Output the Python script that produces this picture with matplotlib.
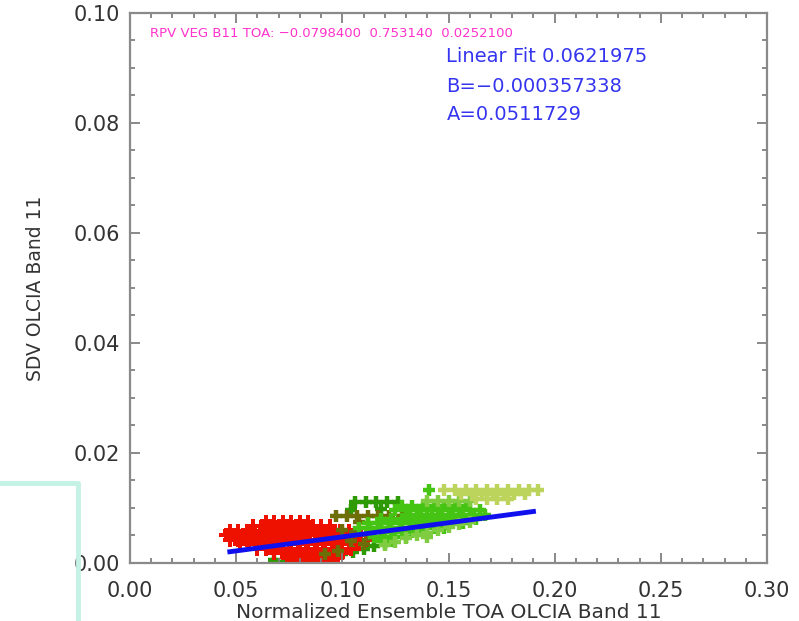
import matplotlib
matplotlib.use('Agg')
import matplotlib.pyplot as plt
from matplotlib.lines import Line2D
from matplotlib.ticker import MultipleLocator

# Valores
rpv_params = [-0.0798400, 0.753140, 0.0252100]
fit_r = 0.0621975
fit_b = -0.000357338
fit_a = 0.0511729
fit_x = [0.047, 0.19]

# Nuvem vermelha: uma linha de pontos por nível de y
red_rows = {
    0.0075: [0.064, 0.068, 0.072, 0.076, 0.080, 0.084],
    0.0067: [0.058, 0.062, 0.066, 0.070, 0.074, 0.078, 0.082, 0.086, 0.090, 0.094],
    0.0058: [0.047, 0.051, 0.055, 0.059, 0.063, 0.067, 0.071, 0.075, 0.079, 0.083, 0.087, 0.091,
             0.095, 0.099, 0.103],
    0.0050: [0.045, 0.049, 0.053, 0.057, 0.061, 0.065, 0.069, 0.073, 0.077, 0.081, 0.085, 0.089,
             0.093, 0.097, 0.101, 0.105, 0.109],
    0.0042: [0.047, 0.051, 0.055, 0.059, 0.063, 0.067, 0.071, 0.075, 0.079, 0.083, 0.087, 0.091,
             0.095, 0.099, 0.103, 0.107, 0.111],
    0.0034: [0.052, 0.056, 0.060, 0.064, 0.068, 0.072, 0.076, 0.080, 0.084, 0.088, 0.092, 0.096,
             0.100, 0.104, 0.108],
    0.0026: [0.060, 0.064, 0.068, 0.072, 0.076, 0.080, 0.084, 0.088, 0.092, 0.096, 0.100, 0.104],
    0.0018: [0.068, 0.072, 0.076, 0.080, 0.084, 0.088, 0.092, 0.096, 0.100],
    0.0010: [0.074, 0.078, 0.082, 0.086, 0.090, 0.094, 0.098],
    0.0003: [0.078, 0.082, 0.086, 0.090, 0.094],
}

# Verde escuro (por baixo da nuvem vermelha e faixa superior)
dkgreen_x = [0.068, 0.072, 0.090, 0.095, 0.100, 0.105, 0.110, 0.115, 0.120,
             0.106, 0.111, 0.116, 0.121, 0.126, 0.104, 0.118]
dkgreen_y = [0.0006, 0.0002, 0.0008, 0.0012, 0.0016, 0.0020, 0.0026, 0.0030, 0.0036,
             0.0110, 0.0110, 0.0110, 0.0110, 0.0110, 0.0097, 0.0098]

# Oliva
olive_x = [0.097, 0.102, 0.107, 0.112, 0.117, 0.122, 0.128,
           0.100, 0.106, 0.112, 0.104, 0.110, 0.092, 0.098, 0.108]
olive_y = [0.0086] * 7 + [0.0060, 0.0056, 0.0050, 0.0040, 0.0034, 0.0016, 0.0022, 0.0074]

# Verde vivo
green_rows = {
    0.0104: [0.128, 0.133, 0.138, 0.143, 0.148, 0.153, 0.158],
    0.0096: [0.125, 0.130, 0.135, 0.140, 0.145, 0.150, 0.155, 0.160, 0.165],
    0.0088: [0.132, 0.137, 0.142, 0.147, 0.152, 0.157, 0.162, 0.167],
    0.0080: [0.118, 0.123, 0.128, 0.133, 0.138, 0.143, 0.148, 0.153, 0.158, 0.163],
    0.0072: [0.112, 0.117, 0.122, 0.127, 0.132, 0.137, 0.142, 0.147, 0.152, 0.157],
    0.0064: [0.108, 0.113, 0.118, 0.123, 0.128, 0.133, 0.138, 0.143, 0.148],
    0.0056: [0.113, 0.118, 0.123, 0.128, 0.133, 0.138],
    0.0048: [0.115, 0.120, 0.125, 0.130],
    0.0040: [0.118, 0.123],
    0.0133: [0.141],
}

# Verde claro (abaixo da reta e faixa y~0.011)
ltgreen_x = [0.140, 0.145, 0.150, 0.155, 0.160,
             0.120, 0.125, 0.130, 0.135, 0.140, 0.145, 0.150, 0.155, 0.160, 0.140]
ltgreen_y = [0.0112] * 5 + [0.0032, 0.0038, 0.0045, 0.0050, 0.0055, 0.0060, 0.0065, 0.0070,
                            0.0075, 0.0048]

# Amarelo-esverdeado (topo direito)
yellow_rows = {
    0.0133: [0.148, 0.153, 0.158, 0.163, 0.168, 0.173, 0.178, 0.183, 0.188, 0.192],
    0.0125: [0.156, 0.161, 0.166, 0.171, 0.176, 0.181, 0.186],
    0.0117: [0.163, 0.168, 0.173, 0.178],
}


def rows_to_xy(rows):
    xs, ys = [], []
    for y, xlist in rows.items():
        xs += xlist
        ys += [y] * len(xlist)
    return xs, ys


plt.close('all')
fig = plt.figure(figsize=(7.99, 6.21), dpi=100)
ax = fig.add_axes([0.1627, 0.0934, 0.7973, 0.8857])

mk = dict(marker='+', s=80, linewidths=3.2)
ax.scatter(dkgreen_x, dkgreen_y, color='#2e9a05', **mk)
rx, ry = rows_to_xy(red_rows)
ax.scatter(rx, ry, color='#ee1100', marker='P', s=115, linewidths=0)
ax.scatter(olive_x, olive_y, color='#6e6e08', **mk)
gx, gy = rows_to_xy(green_rows)
ax.scatter(gx, gy, color='#46c414', **mk)
ax.scatter(ltgreen_x, ltgreen_y, color='#80cc40', **mk)
yx, yy = rows_to_xy(yellow_rows)
ax.scatter(yx, yy, color='#bcd45c', **mk)

# Reta do ajuste linear
fit_y = [fit_a * x + fit_b for x in fit_x]
ax.plot(fit_x, fit_y, color='#1010ee', linewidth=3.5)

ax.set_xlim(0, 0.30)
ax.set_ylim(0, 0.10)
ax.xaxis.set_major_locator(MultipleLocator(0.05))
ax.xaxis.set_minor_locator(MultipleLocator(0.01))
ax.yaxis.set_major_locator(MultipleLocator(0.02))
ax.yaxis.set_minor_locator(MultipleLocator(0.005))
ax.xaxis.set_major_formatter(plt.FormatStrFormatter('%.2f'))
ax.yaxis.set_major_formatter(plt.FormatStrFormatter('%.2f'))
ax.tick_params(which='both', direction='in', top=True, right=True, colors='#808080',
               labelcolor='#333333', labelsize=15, width=1.3)
ax.tick_params(which='major', length=7)
ax.tick_params(which='minor', length=3.5)
ax.tick_params(axis='x', which='major', pad=13)
ax.tick_params(axis='y', which='major', pad=7)
for s in ax.spines.values():
    s.set_color('#8a8a8a')
    s.set_linewidth(1.6)

ax.set_xlabel('Normalized Ensemble TOA OLCIA Band 11', fontsize=14.5, color='#333333', va='top')
ax.xaxis.set_label_coords(0.5, -0.0727)
ax.set_ylabel('SDV OLCIA Band 11', fontsize=13.5, color='#333333')
ax.yaxis.set_label_coords(-0.1334, 0.5)

rpv_txt = 'RPV VEG B11 TOA: %.7f  %.6f  %.7f' % tuple(rpv_params)
ax.text(0.0094, 0.0962, rpv_txt.replace('-', '\u2212'), fontsize=9.5, color='#ff33cc', va='center')
ax.text(0.149, 0.0920, 'Linear Fit %.7f' % fit_r, fontsize=14, color='#3535f0', va='center')
ax.text(0.149, 0.0866, ('B=%.9f' % fit_b).replace('-', '\u2212'), fontsize=14, color='#3535f0', va='center')
ax.text(0.149, 0.0815, 'A=%.7f' % fit_a, fontsize=14, color='#3535f0', va='center')

# Moldura ciano no canto (artefato da captura)
fig.add_artist(Line2D([0, 78 / 799, 78 / 799], [1 - 483 / 621, 1 - 483 / 621, 0],
                      transform=fig.transFigure, color='#c4f2e4', linewidth=3.5))

fig.savefig('out.png', dpi=100)
